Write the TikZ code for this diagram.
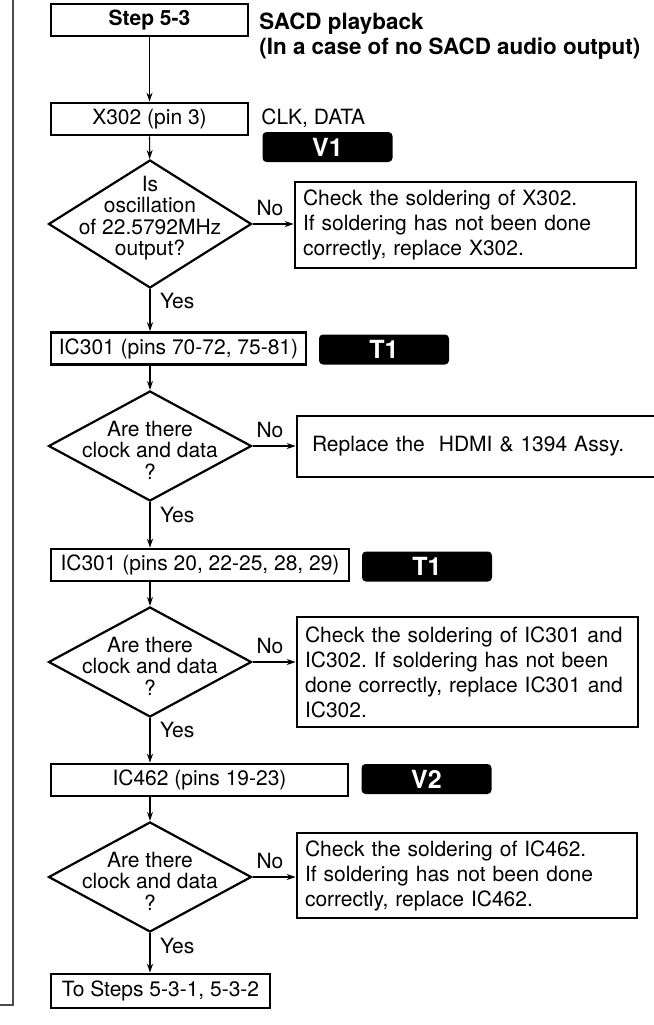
\documentclass[tikz,border=0pt]{standalone}
\usepackage{fontspec}
\setmainfont{TeX Gyre Heros}
\usetikzlibrary{arrows.meta,shapes.geometric}
\newcommand{\txtfont}{\fontsize{10.5}{12.5}\selectfont}
\newcommand{\qfont}{\fontsize{10.5}{10.7}\selectfont}
\frenchspacing

\begin{document}
\begin{tikzpicture}[x=0.5pt,y=-0.5pt,font=\txtfont,
  box/.style={draw,line width=1.3pt,minimum height=16pt,inner sep=0pt},
  msgbox/.style={draw,line width=1.3pt,align=left,inner xsep=4pt,inner ysep=0pt},
  badge/.style={fill=black,rounded corners=2pt,text=white,font=\fontsize{12.5}{13}\selectfont\bfseries,
    minimum width=65pt,minimum height=15pt,inner sep=0pt},
  dia/.style={draw,diamond,line width=1.1pt,minimum width=101.5pt,inner sep=0pt},
  link/.style={line width=0.6pt,-{Stealth[length=4.5pt,width=3pt]}}]
\useasboundingbox (0,0) rectangle (654,1025);
\draw[line width=0.65pt,black!70] (13,0) -- (13,1005) -- (0,1005);

\node[box,minimum width=98.5pt,font=\txtfont\bfseries] (step) at (149.5,20) {Step 5-3};
\node[anchor=north west,align=left,font=\fontsize{11.2}{12.5}\selectfont\bfseries,inner sep=0pt] (title) at (259,12)
  {SACD playback\\(In a case of no SACD audio output)};
\node[box,minimum width=98.5pt] (x302) at (149.5,119) {X302 (pin 3)};
\node[anchor=west,inner sep=0pt] (clk) at (261,118) {CLK, DATA};
\node[badge] (v1) at (327.5,147) {V1};

\node[dia,minimum height=64pt] (d1) at (150,224) {};
\node[align=center,font=\qfont] (q1) at (150,218) {Is\\oscillation\\of 22.5792MHz\\output?};
\node (no1) at (270,208) {No};
\node[msgbox,text width=162.5pt,minimum height=43pt] (chk1) at (465.5,225)
  {Check the soldering of X302.\\If soldering has not been done\\correctly, replace X302.};

\node[box,minimum width=127.5pt] (ic1) at (178.5,348.5) {IC301 (pins 70-72, 75-81)};
\node[badge] (t1a) at (384,349.5) {T1};

\foreach \i/\y in {2/446,3/662,4/877} {
  \node[dia,minimum height=55pt] (d\i) at (150,\y) {};
  \node[align=center,font=\qfont] (q\i) at (150,{\y+4}) {Are there\\clock and data\\?};
  \node (no\i) at (270,{\y-16}) {No};
}
\foreach \i/\y in {1/301,2/515,3/730,4/946}
  \node[anchor=west] (yes\i) at (153,\y) {Yes};

\node[msgbox,inner xsep=7.5pt,text width=165.5pt,minimum height=30.5pt] (rep) at (477.5,446.5)
  {Replace the\ \ HDMI \& 1394 Assy.};

\node[box,minimum width=149pt] (ic2) at (200,565) {IC301 (pins 20, 22-25, 28, 29)};
\node[badge] (t1b) at (427,566.5) {T1};

\node[msgbox,text width=162.5pt,minimum height=55pt] (chk2) at (467.5,672)
  {Check the soldering of IC301 and\\IC302. If soldering has not been\\done correctly, replace IC301 and\\IC302.};

\node[box,minimum width=148.5pt] (ic3) at (199.5,780) {IC462 (pins 19-23)};
\node[badge] (v2) at (426.5,779) {V2};

\node[msgbox,text width=162pt,minimum height=42.5pt] (chk3) at (467,875.5)
  {Check the soldering of IC462.\\If soldering has not been done\\correctly, replace IC462.};

\node[box,minimum width=109.5pt,minimum height=17pt] (end) at (160.5,991) {To Steps 5-3-1, 5-3-2};

\draw[link] (step) -- (x302);
\draw[link] (x302) -- (d1);
\draw[link] (d1.east) -- (d1.east -| chk1.west);
\draw[link] (d1.south) -- (d1.south |- ic1.north);
\draw[link] (d1 |- ic1.south) -- (d2.north);
\draw[link] (d2.east) -- (d2.east -| rep.west);
\draw[link] (d2.south) -- (d2.south |- ic2.north);
\draw[link] (d2 |- ic2.south) -- (d3.north);
\draw[link] (d3.east) -- (d3.east -| chk2.west);
\draw[link] (d3.south) -- (d3.south |- ic3.north);
\draw[link] (d3 |- ic3.south) -- (d4.north);
\draw[link] (d4.east) -- (d4.east -| chk3.west);
\draw[link] (d4.south) -- (d4.south |- end.north);
\end{tikzpicture}
\end{document}
